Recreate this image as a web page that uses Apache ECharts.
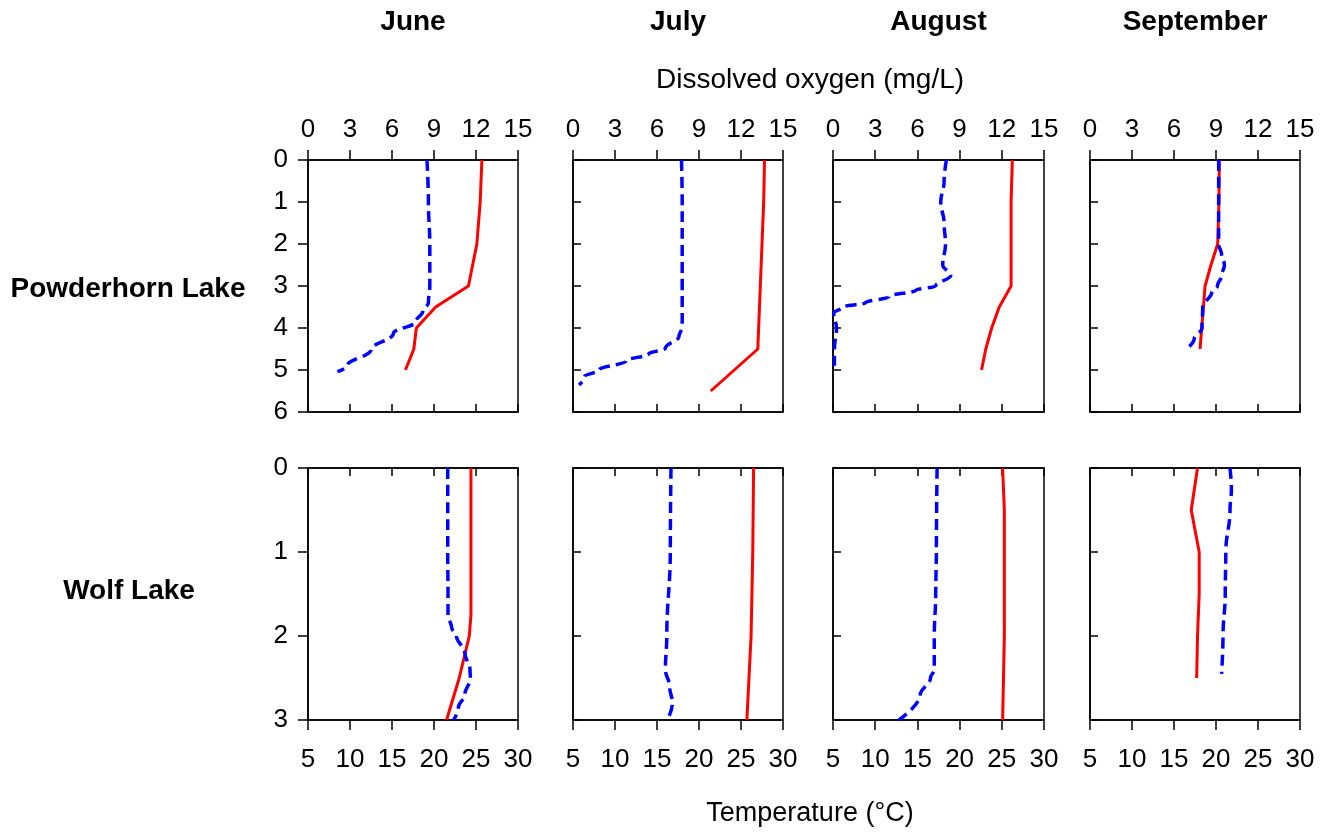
<!DOCTYPE html>
<html><head><meta charset="utf-8">
<script src="https://cdn.jsdelivr.net/npm/echarts@6/dist/echarts.min.js"></script>
<style>html,body{margin:0;padding:0;background:#fff}#c{width:1344px;height:832px}</style>
</head><body><div id="c"></div>
<script>
// ---- labels ----
const months = ['June', 'July', 'August', 'September'];
const lakes = ['Powderhorn Lake', 'Wolf Lake'];
const doAxisTitle = 'Dissolved oxygen (mg/L)';
const tempAxisTitle = 'Temperature (°C)';

// ---- Powderhorn Lake ----
const phJunDoDepth = [0, 1, 2, 3, 3.4, 3.6, 3.85, 4.13, 4.52, 4.9, 5.04];
const phJunDo      = [8.5, 8.6, 8.7, 8.7, 8.6, 8.2, 7.7, 6.1, 4.5, 2.8, 2.1];
const phJunTDepth  = [0, 1, 2, 2.5, 3, 3.5, 4, 4.5, 5];
const phJunT       = [25.7, 25.5, 25.1, 24.6, 24.1, 20.2, 17.9, 17.6, 16.6];

const phJulDoDepth = [0, 1, 2, 3, 3.97, 4.2, 4.48, 4.62, 4.78, 5.0, 5.16, 5.36];
const phJulDo      = [7.75, 7.8, 7.8, 7.8, 7.8, 7.57, 6.6, 5.4, 3.8, 1.86, 0.8, 0.43];
const phJulTDepth  = [0, 1, 2, 3, 4, 4.5, 5.5];
const phJulT       = [27.8, 27.7, 27.5, 27.3, 27.1, 27.0, 21.4];

const phAugDoDepth = [0, 0.5, 1, 1.5, 2, 2.5, 2.75, 3.0, 3.1, 3.25, 3.4, 3.5, 3.65, 4.0, 4.5, 4.9];
const phAugDo      = [8.06, 7.9, 7.66, 7.9, 8.0, 7.8, 8.37, 7.3, 5.9, 3.98, 2.3, 0.67, 0.05, 0.25, 0.1, 0.1];
const phAugTDepth  = [0, 1, 2, 3, 3.5, 4, 4.5, 5];
const phAugT       = [26.25, 26.1, 26.1, 26.1, 24.7, 23.8, 23.1, 22.6];

const phSepDoDepth = [0, 1, 2, 2.25, 2.5, 2.75, 3.0, 3.15, 3.5, 4.0, 4.25, 4.5];
const phSepDo      = [9.19, 9.19, 9.19, 9.4, 9.6, 9.4, 9.1, 8.7, 8.05, 8.0, 7.45, 6.9];
const phSepTDepth  = [0, 1, 2, 2.5, 3, 3.5, 4, 4.5];
const phSepT       = [20.4, 20.35, 20.2, 19.4, 18.7, 18.5, 18.3, 18.1];

// ---- Wolf Lake ----
const wlJunDoDepth = [0, 0.5, 1, 1.5, 1.75, 1.9, 2.0, 2.2, 2.4, 2.5, 2.7, 2.85, 3];
const wlJunDo      = [9.98, 9.98, 9.98, 10.0, 10.0, 10.26, 10.6, 11.2, 11.57, 11.6, 11.2, 10.74, 10.4];
const wlJunTDepth  = [0, 1, 1.75, 2, 2.5, 3];
const wlJunT       = [24.4, 24.4, 24.4, 24.2, 23.0, 21.5];

const wlJulDoDepth = [0, 1, 2, 2.4, 2.6, 2.8, 3];
const wlJulDo      = [7.0, 6.95, 6.7, 6.6, 6.9, 7.1, 6.75];
const wlJulTDepth  = [0, 1, 2, 3];
const wlJulT       = [26.5, 26.4, 26.2, 25.7];

const wlAugDoDepth = [0, 1, 1.5, 2, 2.4, 2.5, 2.7, 3];
const wlAugDo      = [7.4, 7.35, 7.3, 7.2, 7.2, 6.93, 6.2, 4.68];
const wlAugTDepth  = [0, 0.5, 1, 2, 3];
const wlAugT       = [25.1, 25.3, 25.3, 25.3, 25.1];

const wlSepDoDepth = [0, 0.25, 0.5, 1, 1.5, 2, 2.45];
const wlSepDo      = [10.0, 10.1, 10.0, 9.7, 9.66, 9.5, 9.4];
const wlSepTDepth  = [0, 0.5, 1, 1.5, 2, 2.5];
const wlSepT       = [17.8, 17.05, 18.0, 18.0, 17.8, 17.7];

const panels = [
  [phJunDo, phJunDoDepth, phJunT, phJunTDepth],
  [phJulDo, phJulDoDepth, phJulT, phJulTDepth],
  [phAugDo, phAugDoDepth, phAugT, phAugTDepth],
  [phSepDo, phSepDoDepth, phSepT, phSepTDepth],
  [wlJunDo, wlJunDoDepth, wlJunT, wlJunTDepth],
  [wlJulDo, wlJulDoDepth, wlJulT, wlJulTDepth],
  [wlAugDo, wlAugDoDepth, wlAugT, wlAugTDepth],
  [wlSepDo, wlSepDoDepth, wlSepT, wlSepTDepth]
];
const depthMax = [6, 3];

// ---- layout ----
const colLeft = [308, 573, 833, 1090];
const colWidth = [210, 210, 211, 210];
const rowTop = [160, 468];
const rowHeight = 252;
const FONT = '"Liberation Sans", Arial, sans-serif';
const tickFs = 26;

const grids = [], xAxes = [], yAxes = [], series = [];
for (let r = 0; r < 2; r++) {
  for (let c = 0; c < 4; c++) {
    const i = r * 4 + c;
    grids.push({ left: colLeft[c], top: rowTop[r], width: colWidth[c], height: rowHeight,
      show: true, borderColor: '#000', borderWidth: 1.5, backgroundColor: '#fff' });
    const lineSt = { show: true, lineStyle: { color: '#000', width: 1.5 } };
    // DO axis (top)
    xAxes.push({ type: 'value', gridIndex: i, position: 'top', min: 0, max: 15, interval: 3,
      axisLine: lineSt, splitLine: { show: false },
      axisTick: { show: true, inside: r === 1, length: r === 1 ? 8 : 10, lineStyle: { color: '#000', width: 1.5 } },
      axisLabel: { show: r === 0, color: '#000', fontSize: tickFs, fontFamily: FONT, margin: 17 } });
    // Temperature axis (bottom)
    xAxes.push({ type: 'value', gridIndex: i, position: 'bottom', min: 5, max: 30, interval: 5,
      axisLine: lineSt, splitLine: { show: false },
      axisTick: { show: true, inside: r === 0, length: r === 0 ? 8 : 10, lineStyle: { color: '#000', width: 1.5 } },
      axisLabel: { show: r === 1, color: '#000', fontSize: tickFs, fontFamily: FONT, margin: 27 } });
    yAxes.push({ type: 'value', gridIndex: i, inverse: true, min: 0, max: depthMax[r], interval: 1,
      axisLine: lineSt, splitLine: { show: false },
      axisTick: { show: true, inside: c !== 0, length: c !== 0 ? 8 : 10, lineStyle: { color: '#000', width: 1.5 } },
      axisLabel: { show: c === 0, color: '#000', fontSize: tickFs, fontFamily: FONT, margin: 20 } });
    const p = panels[i];
    series.push({ type: 'line', xAxisIndex: 2 * i + 1, yAxisIndex: i,
      data: p[3].map((d, k) => [p[2][k], d]), symbol: 'none', smooth: false,
      lineStyle: { color: '#ff0000', width: 3 }, z: 3 });
    series.push({ type: 'line', xAxisIndex: 2 * i, yAxisIndex: i,
      data: p[1].map((d, k) => [p[0][k], d]), symbol: 'none', smooth: 0.4, smoothMonotone: 'y',
      lineStyle: { color: '#0000ff', width: 3.5, type: [11, 6] }, z: 4 });
  }
}

const graphics = [];
months.forEach((m, c) => {
  graphics.push({ type: 'text', x: colLeft[c] + colWidth[c] / 2, y: 22,
    style: { text: m, fontSize: 28, fontWeight: 'bold', fontFamily: FONT, fill: '#000', align: 'center', verticalAlign: 'middle' } });
});
graphics.push({ type: 'text', x: 810, y: 80,
  style: { text: doAxisTitle, fontSize: 28, fontFamily: FONT, fill: '#000', align: 'center', verticalAlign: 'middle' } });
graphics.push({ type: 'text', x: 810, y: 814,
  style: { text: tempAxisTitle, fontSize: 27, fontFamily: FONT, fill: '#000', align: 'center', verticalAlign: 'middle' } });
graphics.push({ type: 'text', x: 128, y: 289,
  style: { text: lakes[0], fontSize: 28, fontWeight: 'bold', fontFamily: FONT, fill: '#000', align: 'center', verticalAlign: 'middle' } });
graphics.push({ type: 'text', x: 129, y: 591,
  style: { text: lakes[1], fontSize: 28, fontWeight: 'bold', fontFamily: FONT, fill: '#000', align: 'center', verticalAlign: 'middle' } });

const chart = echarts.init(document.getElementById('c'), null, { renderer: 'canvas' });
chart.setOption({
  backgroundColor: '#fff',
  animation: false,
  grid: grids, xAxis: xAxes, yAxis: yAxes, series: series,
  graphic: graphics
});
</script></body></html>
